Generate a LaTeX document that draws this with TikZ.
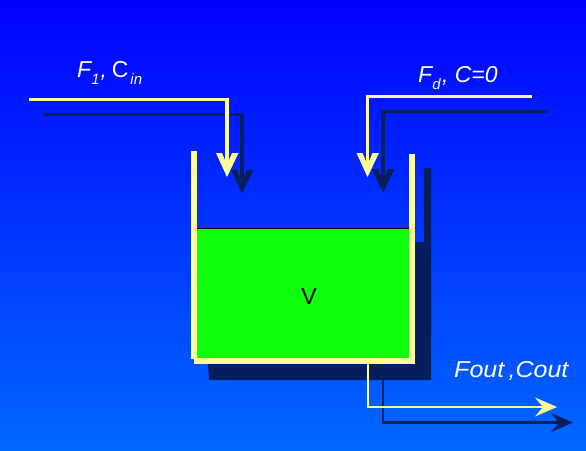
\documentclass[tikz,border=0pt]{standalone}
\usepackage{fontspec}
\setmainfont{Liberation Sans}
\definecolor{pale}{HTML}{FFFF99}
\definecolor{shadowc}{HTML}{061F5C}
\definecolor{liquid}{HTML}{0EFF0E}
\tikzset{
  x=1pt,y=-1pt,
  pipe/.style={line width=3.2pt},
  thinpipe/.style={line width=2.4pt},
  lab/.style={text=white,inner sep=0pt,font=\fontsize{23}{26}\selectfont\itshape}
}
\newcommand{\lowsub}[1]{\raisebox{-7pt}{\fontsize{15}{15}\selectfont\itshape #1}}
\newcommand{\headdown}[2]{\fill[#2] (#1) ++(-11,-24) -- ++(6,0) -- ++(5,12) -- ++(5,-12) -- ++(6.5,0) -- (#1) -- cycle;}
\newcommand{\headright}[2]{\fill[#2] (#1) -- ++(-22,-9.5) -- ++(8,9.5) -- ++(-8,9.5) -- cycle;}
\begin{document}
\begin{tikzpicture}
\useasboundingbox (0,0) rectangle (586,450);
\shade[top color=blue,bottom color={rgb,255:red,0;green,104;blue,255}] (0,0) rectangle (586,450);
% shadows of pipes
\coordinate (s1a) at (44,114.5); \coordinate (s1b) at (242,114.5); \coordinate (s1c) at (242,193.5);
\coordinate (s2a) at (548,111.5); \coordinate (s2b) at (383,111.5); \coordinate (s2c) at (383,193);
\coordinate (s3a) at (383,378); \coordinate (s3b) at (383,422.5); \coordinate (s3c) at (573,422.5);
\coordinate (s1e) at (242,180); \coordinate (s2e) at (383,180); \coordinate (s3e) at (560,422.5);
\draw[shadowc,pipe] (s1a) -- (s1b) -- (s1e);
\draw[shadowc,pipe] (s2a) -- (s2b) -- (s2e);
\draw[shadowc,thinpipe] (s3a) -- (s3b) -- (s3e);
\headdown{s1c}{shadowc}
\headdown{s2c}{shadowc}
\headright{s3c}{shadowc}
% tank shadow
\fill[shadowc] (424,168) -- (431,168) -- (431,380) -- (209,380) -- (208,364) -- (415,364) -- (415,242) -- (424,242) -- cycle;
% liquid
\fill[liquid] (197,228) rectangle (409,358);
\draw[black,line width=1pt] (197,228.5) -- (409,228.5);
% tank walls
\fill[pale] (191,151) rectangle (197,359);
\fill[pale] (409,154) rectangle (415,364);
\fill[pale] (194,358) rectangle (415,364);
% pipes
\coordinate (y1a) at (29,99.5); \coordinate (y1b) at (227,99.5); \coordinate (y1c) at (227,177);
\coordinate (y2a) at (532,96.5); \coordinate (y2b) at (367.5,96.5); \coordinate (y2c) at (367.5,177);
\coordinate (y3a) at (368,363); \coordinate (y3b) at (368,407); \coordinate (y3c) at (557,407);
\coordinate (y1e) at (227,165); \coordinate (y2e) at (367.5,165); \coordinate (y3e) at (545,407);
\draw[pale,pipe] (y1a) -- (y1b) -- (y1e);
\draw[pale,pipe] (y2a) -- (y2b) -- (y2e);
\draw[pale,thinpipe] (y3a) -- (y3b) -- (y3e);
\headdown{y1c}{pale}
\headdown{y2c}{pale}
\headright{y3c}{pale}
% labels
\node[lab,anchor=base west] (t1) at (77,77) {F\lowsub{1}\kern1pt, \kern-1.5pt{\upshape C}\lowsub{\kern2pt in}};
\node[lab,anchor=base west] (t2) at (418,82) {F\lowsub{d}\kern1.5pt, C=0};
\node[lab,anchor=base west] (t3) at (454,377) {\scalebox{1.09}[1]{Fout\,,Cout}};
\node[lab,text=black,anchor=base,font=\fontsize{23}{26}\selectfont] (t4) at (309,304) {V};
\end{tikzpicture}
\end{document}
